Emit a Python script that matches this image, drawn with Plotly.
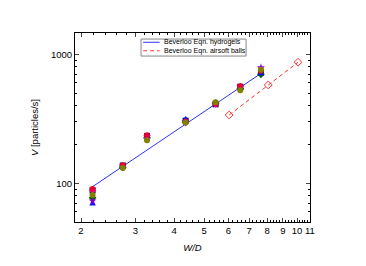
import plotly.graph_objects as go

# Hydrogel data (W/D positions and measured discharge rates)
wd = [2.18, 2.73, 3.27, 4.36, 5.45, 6.55, 7.64]
series_names = ["S1", "S2", "S3", "S4", "S5", "S6", "S7"]
v_s1 = [88, 137, 232, 305, 410, 560, 720]
v_s2 = [90, 138, 235, 300, 415, 565, 745]
v_s3 = [69, 136, 228, 315, 420, 545, 705]
v_s4 = [86, 134, 220, 290, 405, 550, 780]
v_s5 = [81, 131, 215, 295, 425, 525, 760]
v_s6 = [73, 136, 230, 300, 408, 560, 790]
v_s7 = [77, 133, 225, 298, 418, 540, 700]

# Beverloo fit for hydrogels
bev_hyd = [94, 135, 181, 288, 411, 553, 710]

# Airsoft balls Beverloo
wd_air = [6.03, 8.07, 10.07]
bev_air = [338, 578, 867]

x_ticks = [2, 3, 4, 5, 6, 7, 8, 9, 10, 11]
y_ticks = [100, 1000]
legend_labels = ["Beverloo Eqn. hydrogels", "Beverloo Eqn. airsoft balls"]

colors = ["#000000", "#e8003a", "#1010ff", "#ff00ff", "#808000", "#8000c0", "#006400"]
symbols = ["square", "circle", "triangle-up", "triangle-down", "circle", "star", "diamond"]
vals = [v_s1, v_s2, v_s3, v_s4, v_s5, v_s6, v_s7]
draw_order = [0, 6, 2, 5, 3, 1, 4]

blue = "#3030ff"
red = "#ff3030"

fig = go.Figure()
fig.add_trace(go.Scatter(x=wd, y=bev_hyd, mode="lines", name=legend_labels[0],
                         line=dict(color=blue, width=1)))
fig.add_trace(go.Scatter(x=wd_air, y=bev_air, mode="lines", name=legend_labels[1],
                         line=dict(color=red, width=1, dash="4px,3px")))
for i in draw_order:
    fig.add_trace(go.Scatter(x=wd, y=vals[i], mode="markers", name=series_names[i],
                             marker=dict(symbol=symbols[i], color=colors[i], size=6,
                                         line=dict(width=0))))
fig.add_trace(go.Scatter(x=wd_air, y=bev_air, mode="markers", name="airsoft balls",
                         marker=dict(symbol="diamond-open", color=red, size=6, line=dict(width=1))))

# compact legend box (drawn like the original software's legend)
lg_x0, lg_x1, lg_y0, lg_y1 = 0.281, 0.728, 0.878, 0.968
row_y = [0.951, 0.906]
fig.add_shape(type="rect", xref="paper", yref="paper", x0=lg_x0, x1=lg_x1, y0=lg_y0, y1=lg_y1,
              line=dict(color="#888888", width=1), fillcolor="rgba(255,255,255,0)", layer="above")
fig.add_shape(type="line", xref="paper", yref="paper", x0=0.29, x1=0.36, y0=row_y[0], y1=row_y[0],
              line=dict(color=blue, width=1))
fig.add_shape(type="line", xref="paper", yref="paper", x0=0.29, x1=0.36, y0=row_y[1], y1=row_y[1],
              line=dict(color=red, width=1, dash="4px,3px"))
for lab, yy in zip(legend_labels, row_y):
    fig.add_annotation(text=lab, xref="paper", yref="paper", x=0.372, y=yy, xanchor="left",
                       yanchor="middle", showarrow=False, font=dict(size=7))

font = "Liberation Sans, Arial, sans-serif"
minor_x = [round(2 + 0.2 * k, 1) for k in range(46)]
fig.update_layout(
    width=366, height=266,
    margin=dict(l=75, r=56, t=33, b=44),
    paper_bgcolor="white", plot_bgcolor="white",
    font=dict(family=font, size=9.5, color="black"),
    showlegend=False,
)
fig.update_xaxes(type="log", range=[0.2816, 1.0418], tickvals=x_ticks, ticktext=[str(t) for t in x_ticks],
                 ticks="inside", ticklen=4, showline=True, linecolor="black", linewidth=1,
                 mirror="ticks", showgrid=False, zeroline=False,
                 minor=dict(tickvals=minor_x, ticks="inside", ticklen=2, tickcolor="black"),
                 title=dict(text="<i>W/D</i>", standoff=8, font=dict(size=9.5)))
fig.update_yaxes(type="log", range=[1.699, 3.165], tickvals=y_ticks, ticktext=["100", "1000"],
                 ticks="inside", ticklen=4, showline=True, linecolor="black", linewidth=1,
                 mirror="ticks", showgrid=False, zeroline=False,
                 minor=dict(tickvals=[60, 70, 80, 90, 200, 300, 400, 500, 600, 700, 800, 900],
                            ticks="inside", ticklen=2, tickcolor="black"),
                 title=dict(text="<i>V</i> [particles/s]", standoff=10, font=dict(size=9.5)))

fig.write_html("out.html", config={"displayModeBar": False},
               post_script="document.body.style.margin='0';")
